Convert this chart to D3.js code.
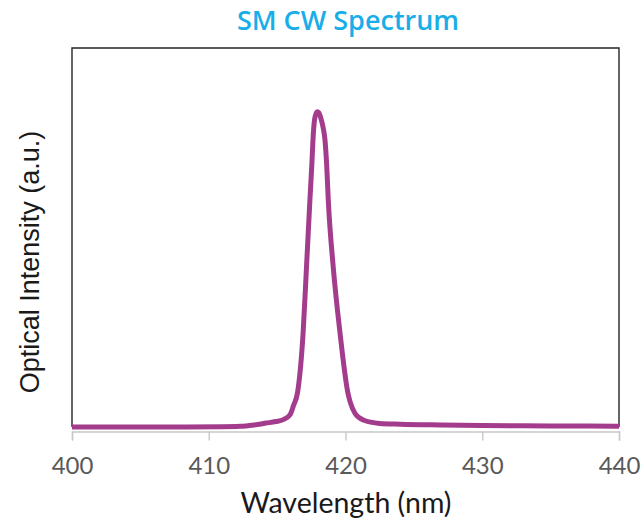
<!DOCTYPE html>
<html>
<head>
<meta charset="utf-8">
<script src="https://cdn.jsdelivr.net/npm/d3@7/dist/d3.min.js"></script>
<style>
  html, body { margin: 0; padding: 0; background: #ffffff; }
  svg { display: block; }
</style>
</head>
<body>
<svg id="chart" width="641" height="527"></svg>
<script>
// Spectrum samples: wavelength (nm) and relative optical intensity (a.u.)
const wavelength = [400, 404, 408, 411, 412.3, 413.3, 414.2, 414.9, 415.45, 415.95, 416.2, 416.5,
                    416.9, 417.15, 417.4, 417.53, 417.65, 417.77, 417.94, 418.1, 418.21, 418.35,
                    418.5, 418.63, 418.74, 419.1, 419.6, 420.18, 420.35, 420.7, 421.3, 422.5,
                    424, 427, 430, 435, 440];
const intensity  = [0.0115, 0.0118, 0.012, 0.0125, 0.0135, 0.017, 0.022, 0.026, 0.031, 0.044, 0.068, 0.103,
                    0.257, 0.43, 0.605, 0.69, 0.778, 0.82, 0.834, 0.828, 0.815, 0.795,
                    0.76, 0.69, 0.604, 0.43, 0.257, 0.1, 0.076, 0.047, 0.03, 0.021,
                    0.019, 0.017, 0.0155, 0.0145, 0.014];
const xTicks = [400, 410, 420, 430, 440];

const titleText = "SM CW Spectrum";
const xLabel = "Wavelength (nm)";
const yLabel = "Optical Intensity (a.u.)";

const svg = d3.select("#chart");
const plot = { left: 72, right: 619, top: 48, axis: 431.5 };

const x = d3.scaleLinear().domain([400, 440]).range([plot.left, plot.right]);
const y = d3.scaleLinear().domain([0, 1]).range([plot.axis, plot.top]);

// Title
svg.append("text")
  .attr("x", 348)
  .attr("y", 30)
  .attr("text-anchor", "middle")
  .attr("font-family", "'Open Sans', sans-serif")
  .attr("font-size", 27)
  .attr("font-weight", 600)
  .attr("fill", "#1aaee8")
  .text(titleText);

// Plot frame: left, top and right edges
svg.append("path")
  .attr("d", `M${plot.left},427 V${plot.top} H${plot.right} V427`)
  .attr("fill", "none")
  .attr("stroke", "#262626")
  .attr("stroke-width", 1.4);

// X axis
const xAxis = d3.axisBottom(x)
  .tickValues(xTicks)
  .tickSize(9)
  .tickPadding(16)
  .tickFormat(d3.format("d"));

const gx = svg.append("g")
  .attr("transform", `translate(0,${plot.axis})`)
  .call(xAxis);
gx.select(".domain").attr("stroke", "#c8c8c8").attr("stroke-width", 1.4);
gx.selectAll(".tick line").attr("stroke", "#c8c8c8").attr("stroke-width", 1.4);
gx.selectAll(".tick text")
  .attr("font-family", "Lato, sans-serif")
  .attr("font-size", 24)
  .attr("fill", "#595959");

// Axis titles
svg.append("text")
  .attr("x", 346)
  .attr("y", 513)
  .attr("text-anchor", "middle")
  .attr("font-family", "Lato, sans-serif")
  .attr("font-size", 28.5)
  .attr("fill", "#1a1a1a")
  .text(xLabel);

svg.append("text")
  .attr("transform", "translate(39,262) rotate(-90)")
  .attr("text-anchor", "middle")
  .attr("font-family", "'Liberation Sans', Arial, sans-serif")
  .attr("font-size", 27)
  .attr("fill", "#1a1a1a")
  .text(yLabel);

// Spectrum line
const data = wavelength.map((w, i) => ({ w, v: intensity[i] }));
const line = d3.line()
  .x(d => x(d.w))
  .y(d => y(d.v))
  .curve(d3.curveMonotoneX);

svg.append("path")
  .datum(data)
  .attr("d", line)
  .attr("fill", "none")
  .attr("stroke", "#a33c8c")
  .attr("stroke-width", 5)
  .attr("stroke-linejoin", "round");
</script>
</body>
</html>
